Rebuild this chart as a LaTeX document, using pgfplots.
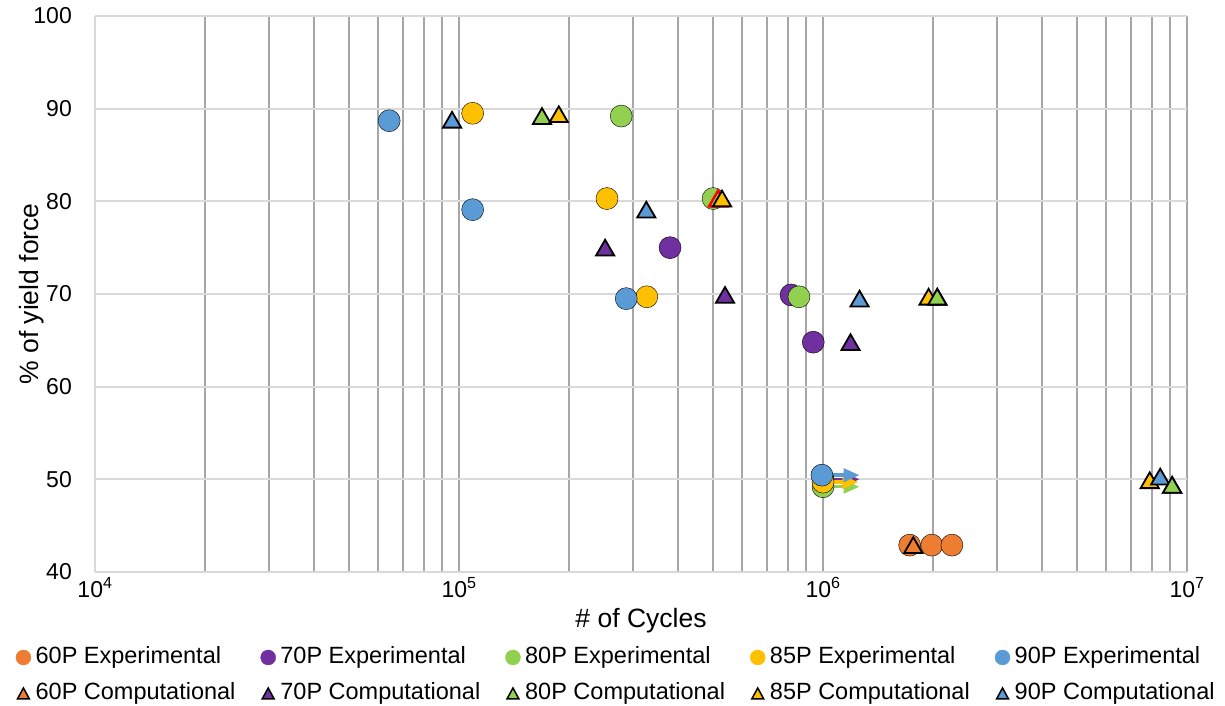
\documentclass[border=0pt]{standalone}
\usepackage{fontspec}
\setmainfont{Liberation Sans}
\usepackage{pgfplots}
\pgfplotsset{compat=1.18}
\usetikzlibrary{arrows.meta}

\definecolor{c60}{HTML}{ED7D31}
\definecolor{c70}{HTML}{7030A0}
\definecolor{c80}{HTML}{92D050}
\definecolor{c85}{HTML}{FFC000}
\definecolor{c90}{HTML}{5B9BD5}
\definecolor{vgrid}{RGB}{166,166,166}
\definecolor{hgrid}{RGB}{217,217,217}

\pgfplotsset{
  expmark/.style={only marks, mark=*, mark size=11pt,
    mark options={draw=none, fill=#1},
    legend image code/.code={\fill[#1] (7.5pt,0pt) circle (7.5pt);}},
  compmark/.style={only marks, mark=triangle*, mark size=10.5pt,
    mark options={fill=#1, draw=black, line width=1.8pt, yshift=-2.6pt},
    legend image code/.code={\draw[fill=#1, line width=1.5pt, line join=miter]
      (1.5pt,-5.5pt) -- (13.5pt,-5.5pt) -- (7.5pt,5.5pt) -- cycle;}},
  runout/.style={forget plot, draw=#1, line width=3.5pt,
    -{Triangle[length=16pt,width=13pt]}},
}

\begin{document}
\begin{tikzpicture}
\begin{axis}[
  name=ax, scale only axis, width=1092pt, height=556pt,
  xmode=log, log basis x=10,
  xmin=1e4, xmax=1e7, ymin=40, ymax=100,
  xtick={1e4,1e5,1e6,1e7},
  xticklabels={10\textsuperscript{4},10\textsuperscript{5},10\textsuperscript{6},10\textsuperscript{7}},
  minor xtick={2e4,3e4,4e4,5e4,6e4,7e4,8e4,9e4,2e5,3e5,4e5,5e5,6e5,7e5,8e5,9e5,2e6,3e6,4e6,5e6,6e6,7e6,8e6,9e6},
  ytick={40,50,60,70,80,90,100},
  xmajorgrids, xminorgrids, ymajorgrids,
  major x grid style={vgrid, line width=2pt},
  minor x grid style={vgrid, line width=2pt},
  major y grid style={hgrid, line width=1.8pt},
  major tick length=0pt, minor tick length=0pt,
  axis x line*=bottom, axis y line*=left,
  x axis line style={hgrid, line width=1.8pt},
  y axis line style={hgrid, line width=1.8pt},
  /pgf/number format/assume math mode=true,
  tick label style={font=\fontsize{23}{27}\selectfont, text=black},
  yticklabel style={inner sep=0pt, xshift=-23pt},
  xticklabel style={inner sep=0pt, yshift=-5pt},
  xlabel={\# of Cycles}, ylabel={\% of yield force},
  label style={font=\fontsize{26.5}{30}\selectfont},
  xlabel style={at={(axis description cs:0.5,-0.088)}, anchor=center},
  ylabel style={at={(axis description cs:-0.058,0.5)}, anchor=center},
  legend columns=5, legend cell align=left,
  legend style={at={(axis description cs:-0.0728,-0.13)}, anchor=north west,
    draw=none, fill=none, inner sep=0pt,
    font=\fontsize{23.5}{28}\selectfont,
    nodes={inner sep=2pt, text height=17pt, text depth=5pt},
    /tikz/every odd column/.append style={column sep=2.5pt},
    /tikz/every even column/.append style={column sep=23pt},
    row sep=10pt},
  clip=false,
]
% experimental results (circles); run-outs carry an arrow
\addplot[expmark=c60] coordinates {(1.73e6,42.9) (1.99e6,42.9) (2.26e6,42.9)};
\addlegendentry{60P Experimental}

\addplot[runout=c70] coordinates {(1e6,50.0) (1.26e6,50.0)};
\addplot[expmark=c70] coordinates {(3.8e5,75) (8.17e5,69.9) (9.4e5,64.8) (1e6,50.0)};
\addlegendentry{70P Experimental}

\addplot[runout=c80] coordinates {(1e6,49.2) (1.26e6,49.2)};
\addplot[expmark=c80] coordinates {(2.79e5,89.2) (4.99e5,80.3) (8.59e5,69.7) (1e6,49.2)};
\addlegendentry{80P Experimental}

\addplot[runout=c85] coordinates {(1e6,49.7) (1.25e6,49.7)};
\addplot[expmark=c85] coordinates {(1.09e5,89.5) (2.55e5,80.3) (3.28e5,69.7) (1e6,49.7)};
\addlegendentry{85P Experimental}

\addplot[runout=c90] coordinates {(1e6,50.45) (1.26e6,50.45)};
\addplot[expmark=c90] coordinates {(6.43e4,88.7) (1.09e5,79.1) (2.88e5,69.5) (9.93e5,50.45)};
\addlegendentry{90P Experimental}

% computational predictions (triangles)
\addplot[compmark=c60] coordinates {(1.77e6,42.9)};
\addlegendentry{60P Computational}

\addplot[compmark=c70] coordinates {(2.52e5,75) (5.38e5,69.9) (1.19e6,64.8)};
\addlegendentry{70P Computational}

\addplot[compmark=c80] coordinates {(1.69e5,89.2) (2.06e6,69.7) (9.1e6,49.4)};
\addlegendentry{80P Computational}

\addplot[only marks, mark=triangle*, mark size=10.5pt, forget plot,
  mark options={fill=c80, draw=red, line width=2.5pt, yshift=-2.6pt}]
  coordinates {(5.15e5,80.3)};

\addplot[compmark=c85] coordinates {(1.88e5,89.4) (5.28e5,80.3) (1.95e6,69.7) (7.9e6,49.9)};
\addlegendentry{85P Computational}

\addplot[compmark=c90] coordinates {(9.57e4,88.8) (3.27e5,79.1) (1.26e6,69.5) (8.44e6,50.3)};
\addlegendentry{90P Computational}

\addplot[compmark=c80, forget plot] coordinates {(2.06e6,69.7) (9.1e6,49.4)};
\end{axis}
\pgfresetboundingbox
\path[use as bounding box] ([xshift=-95pt,yshift=-134pt]ax.south west)
  rectangle ([xshift=38pt,yshift=16pt]ax.north east);
\end{tikzpicture}
\end{document}
